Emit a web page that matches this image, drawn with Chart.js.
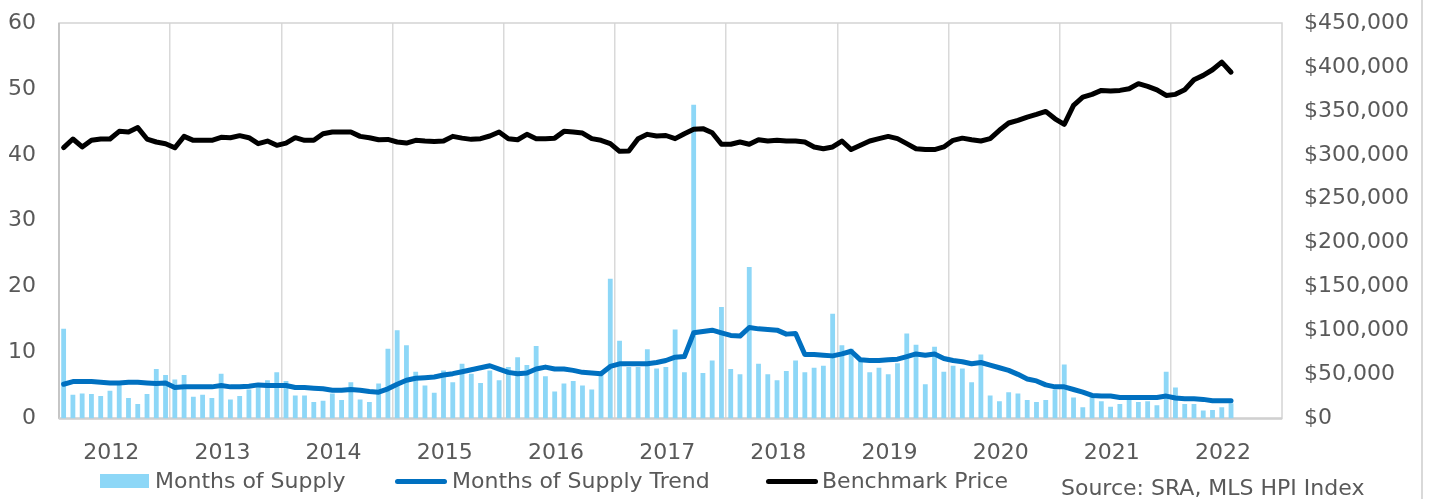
<!DOCTYPE html>
<html><head><meta charset="utf-8">
<script src="https://cdn.jsdelivr.net/npm/chart.js@4"></script>
<style>
html,body{margin:0;padding:0;background:#fff;}
#wrap{position:relative;width:1430px;height:499px;overflow:hidden;font-family:'DejaVu Sans';color:#595959;}
canvas{position:absolute;left:0;top:0;}
.lg{position:absolute;font-size:22px;line-height:26px;white-space:nowrap;top:468px;}
.sw{position:absolute;}
#vline{position:absolute;left:1421px;top:0;width:2px;height:499px;background:#d9d9d9;}
</style></head>
<body><div id="wrap">
<canvas id="c" width="1430" height="499"></canvas>
<div id="vline"></div>
<div class="sw" style="left:100px;top:474px;width:49px;height:14px;background:#8DD7F7"></div>
<div class="lg" style="left:155px">Months of Supply</div>
<div class="sw" style="left:395px;top:478.5px;width:52px;height:5px;background:#0070C0;border-radius:3px"></div>
<div class="lg" style="left:452px">Months of Supply Trend</div>
<div class="sw" style="left:766px;top:478.5px;width:52px;height:5px;background:#000;border-radius:3px"></div>
<div class="lg" style="left:822px">Benchmark Price</div>
<div class="lg" style="left:1061px;top:475px">Source: SRA, MLS HPI Index</div>
</div>
<script>
const years = ['2012','2013','2014','2015','2016','2017','2018','2019','2020','2021','2022'];
const monthNames = ['Jan','Feb','Mar','Apr','May','Jun','Jul','Aug','Sep','Oct','Nov','Dec'];
const categories = [];
years.forEach(y => monthNames.forEach(m => categories.push(m + ' ' + y)));

const monthsOfSupply = [
13.6,3.6,3.8,3.7,3.4,4.2,5.2,3.1,2.2,3.7,7.5,6.6,
5.9,6.6,3.3,3.6,3.1,6.8,2.9,3.4,4.4,4.8,5.8,7.0,
5.7,3.5,3.5,2.5,2.7,3.8,2.8,5.5,2.9,2.5,5.3,10.6,
13.4,11.1,7.1,5.0,3.9,7.3,5.5,8.3,6.8,5.4,7.3,5.8,
7.8,9.3,8.1,11.0,6.4,4.1,5.3,5.7,5.0,4.4,6.6,21.2,
11.8,7.8,7.8,10.5,7.6,7.8,13.5,7.0,47.6,6.9,8.8,16.9,
7.5,6.7,23.0,8.3,6.7,5.8,7.2,8.8,7.0,7.7,8.0,15.9,
11.1,10.6,8.7,7.0,7.7,6.7,8.4,12.9,11.2,5.2,10.9,7.1,
8.0,7.6,5.5,9.7,3.5,2.6,4.0,3.8,2.8,2.5,2.8,4.4,
8.2,3.2,1.7,3.3,2.6,1.8,2.2,2.9,2.5,2.6,2.0,7.1,
4.7,2.2,2.2,1.2,1.3,1.7,2.3
];
const supplyTrend = [
5.2,5.6,5.6,5.6,5.5,5.4,5.4,5.5,5.5,5.4,5.3,5.4,
4.7,4.8,4.8,4.8,4.8,5.0,4.8,4.8,4.9,5.1,5.0,5.0,
5.0,4.7,4.7,4.6,4.5,4.3,4.3,4.4,4.3,4.1,4.0,4.5,
5.2,5.8,6.1,6.2,6.3,6.6,6.8,7.1,7.4,7.7,8.0,7.5,
7.0,6.8,6.9,7.5,7.8,7.5,7.5,7.3,7.0,6.9,6.8,7.9,
8.3,8.3,8.3,8.3,8.5,8.8,9.3,9.4,13.0,13.2,13.4,13.0,
12.6,12.5,13.8,13.6,13.5,13.4,12.8,12.9,9.7,9.7,9.6,9.5,
9.8,10.2,8.9,8.8,8.8,8.9,9.0,9.4,9.8,9.6,9.8,9.1,
8.8,8.6,8.3,8.5,8.1,7.7,7.3,6.7,6.0,5.7,5.1,4.8,
4.8,4.4,4.0,3.5,3.4,3.4,3.2,3.2,3.2,3.2,3.2,3.4,
3.1,3.0,3.0,2.9,2.7,2.7,2.7
];
const benchmarkPrice = [
308200,318000,309000,316500,318000,318000,326700,326000,331000,318000,314600,312700,
308000,321000,316500,316500,316500,320000,319500,321800,319500,312700,315700,310800,
313400,319500,316500,316500,324000,326000,326000,326000,321000,319500,317200,317500,
314600,313400,316500,315700,315300,315700,321000,319000,317600,318400,321400,326000,
318400,317200,323300,318400,318400,319000,326700,326000,324800,318400,316500,312700,
304000,304400,318400,323300,321400,322000,318400,324000,329000,329800,325200,312000,
312000,314600,312000,317200,315700,316500,315700,315700,314600,309000,307000,309000,
315700,306000,310800,315700,318400,321000,318400,312700,307000,306000,306000,309000,
316500,319000,317200,315700,318400,327900,336200,339200,343000,346000,349400,341000,
334700,356300,365700,368800,373300,372500,373300,375200,381000,377900,374000,367600,
368800,374000,385500,390400,396800,405500,394000
];

Chart.defaults.font.family = 'DejaVu Sans';
Chart.defaults.font.size = 22;
Chart.defaults.color = '#595959';

const boxPlugin = {
  id: 'box',
  beforeDatasetsDraw(chart) {
    const {ctx, chartArea: a} = chart;
    ctx.save();
    ctx.strokeStyle = '#d4d4d4';
    ctx.lineWidth = 1.5;
    ctx.strokeRect(a.left, a.top, a.right - a.left, a.bottom - a.top);
    ctx.strokeStyle = '#bfbfbf';
    ctx.beginPath(); ctx.moveTo(a.left, a.top); ctx.lineTo(a.left, a.bottom); ctx.stroke();
    ctx.strokeStyle = '#d0d0d0';
    ctx.lineWidth = 2.5;
    ctx.beginPath(); ctx.moveTo(a.left, a.bottom); ctx.lineTo(a.right, a.bottom); ctx.stroke();
    ctx.restore();
  }
};

const fitY = (w) => (s) => { s.width = w; s.paddingTop = 0; s.paddingBottom = 0; };

new Chart(document.getElementById('c'), {
  type: 'bar',
  data: {
    labels: categories,
    datasets: [
      { type: 'line', label: 'Benchmark Price', data: benchmarkPrice, yAxisID: 'y1',
        borderColor: '#000000', backgroundColor: '#000000', borderWidth: 5, pointRadius: 0,
        tension: 0, borderJoinStyle: 'round', borderCapStyle: 'round', order: 1 },
      { type: 'line', label: 'Months of Supply Trend', data: supplyTrend, yAxisID: 'y',
        borderColor: '#0070C0', backgroundColor: '#0070C0', borderWidth: 5, pointRadius: 0,
        tension: 0, borderJoinStyle: 'round', borderCapStyle: 'round', order: 2 },
      { type: 'bar', label: 'Months of Supply', data: monthsOfSupply, yAxisID: 'y',
        backgroundColor: '#8DD7F7', barPercentage: 0.52, categoryPercentage: 1.0, order: 3 }
    ]
  },
  options: {
    responsive: false,
    animation: false,
    devicePixelRatio: 1,
    layout: { padding: { top: 23, left: 0, right: 0, bottom: 0 } },
    plugins: { legend: { display: false }, tooltip: { enabled: false } },
    scales: {
      x: {
        type: 'category',
        offset: true,
        border: { display: false },
        grid: {
          offset: true,
          drawTicks: false,
          lineWidth: 1.5,
          color: (ctx) => (ctx.index % 12 === 0 ? '#d9d9d9' : 'rgba(0,0,0,0)')
        },
        ticks: {
          autoSkip: false, maxRotation: 0, minRotation: 0, padding: 22, labelOffset: -8,
          callback: (v, i) => (i % 12 === 6 ? years[Math.floor(i / 12)] : '')
        },
        afterFit: (s) => { s.height = 80.5; s.paddingLeft = 0; s.paddingRight = 0; }
      },
      y: {
        position: 'left', min: 0, max: 60,
        border: { display: false },
        grid: { display: false, drawTicks: false },
        ticks: { stepSize: 10, padding: 23 },
        afterFit: fitY(59)
      },
      y1: {
        position: 'right', min: 0, max: 450000,
        border: { display: false },
        grid: { display: false, drawTicks: false },
        ticks: { stepSize: 50000, padding: 22,
          callback: (v) => '$' + Number(v).toLocaleString('en-US') },
        afterFit: fitY(148)
      }
    }
  },
  plugins: [boxPlugin]
});
</script>
</body></html>
